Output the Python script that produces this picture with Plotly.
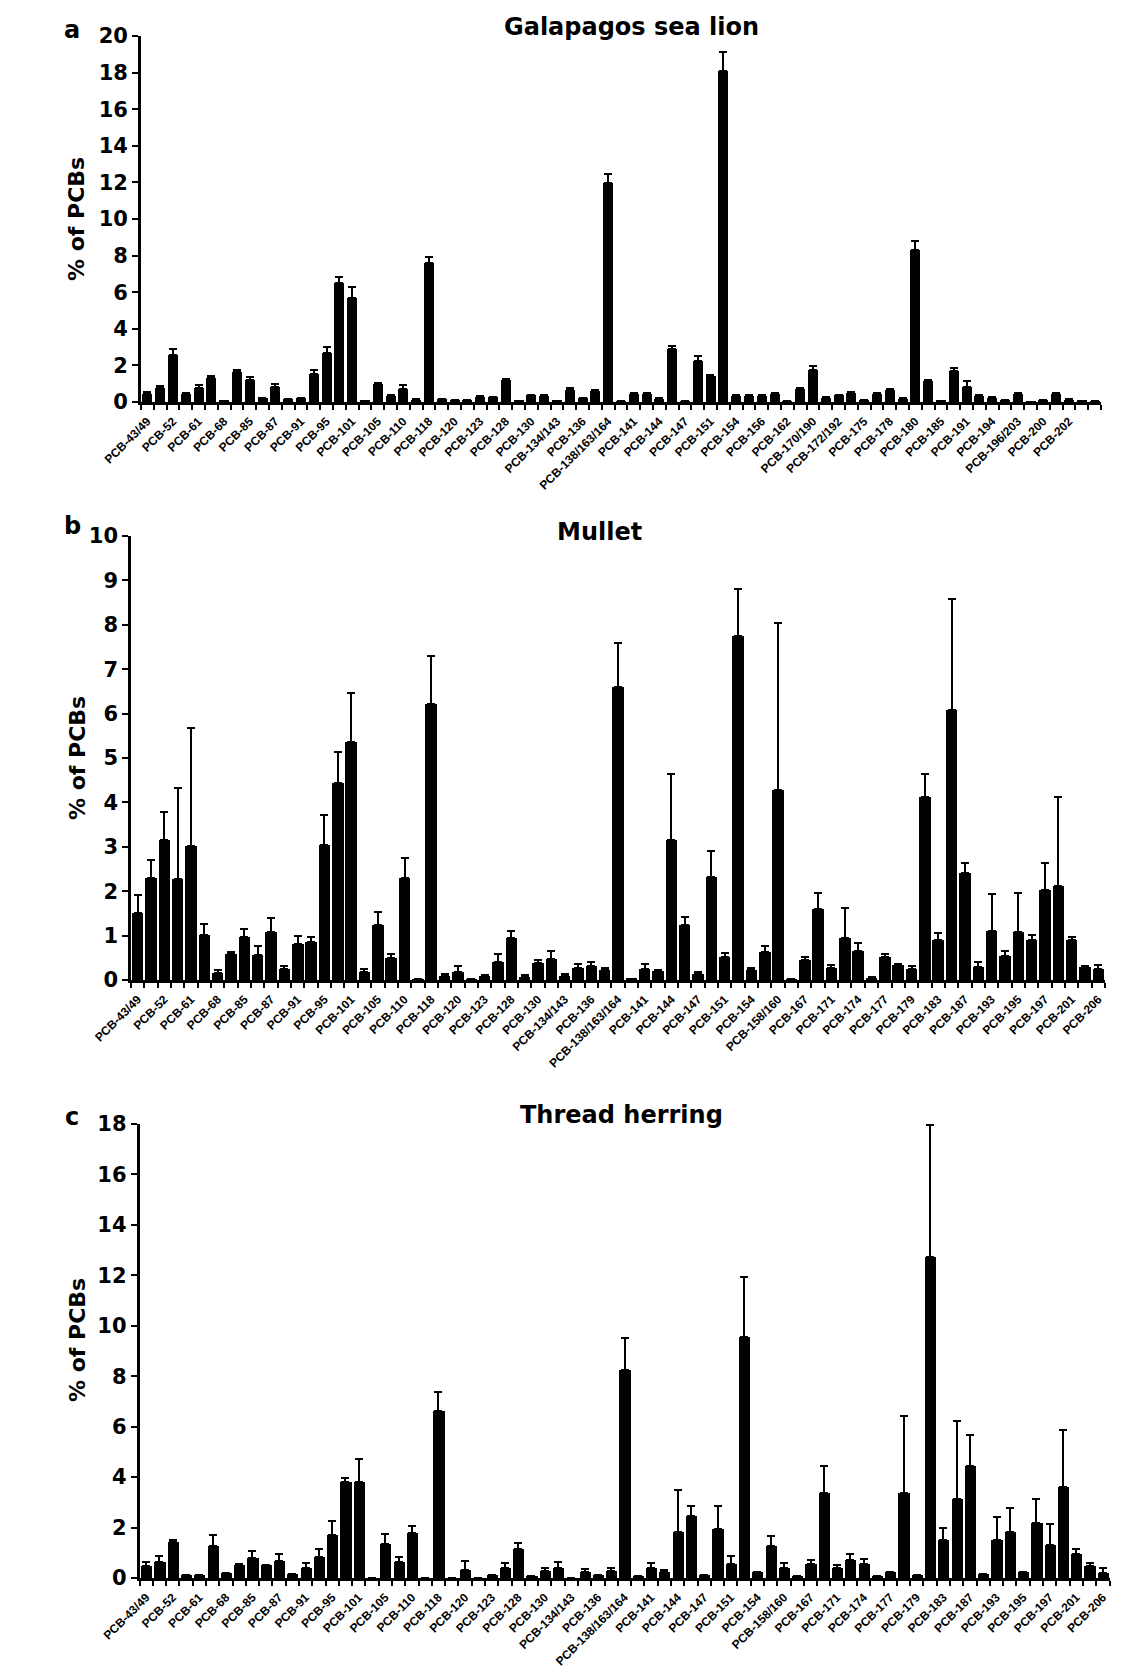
import plotly.graph_objects as go

# ---------------- data ----------------
a_labels = ["PCB-43/49", "PCB-52", "PCB-61", "PCB-68", "PCB-85", "PCB-87", "PCB-91", "PCB-95",
            "PCB-101", "PCB-105", "PCB-110", "PCB-118", "PCB-120", "PCB-123", "PCB-128", "PCB-130",
            "PCB-134/143", "PCB-136", "PCB-138/163/164", "PCB-141", "PCB-144", "PCB-147", "PCB-151",
            "PCB-154", "PCB-156", "PCB-162", "PCB-170/190", "PCB-172/192", "PCB-175", "PCB-178",
            "PCB-180", "PCB-185", "PCB-191", "PCB-194", "PCB-196/203", "PCB-200", "PCB-202"]

bc_labels = ["PCB-43/49", "PCB-52", "PCB-61", "PCB-68", "PCB-85", "PCB-87", "PCB-91", "PCB-95",
             "PCB-101", "PCB-105", "PCB-110", "PCB-118", "PCB-120", "PCB-123", "PCB-128", "PCB-130",
             "PCB-134/143", "PCB-136", "PCB-138/163/164", "PCB-141", "PCB-144", "PCB-147", "PCB-151",
             "PCB-154", "PCB-158/160", "PCB-167", "PCB-171", "PCB-174", "PCB-177", "PCB-179",
             "PCB-183", "PCB-187", "PCB-193", "PCB-195", "PCB-197", "PCB-201", "PCB-206"]

# Galapagos sea lion (mean % and upper error)
a_vals = [0.42, 0.78, 2.55, 0.46, 0.78, 1.33, 0.07, 1.65, 1.22, 0.20,
          0.83, 0.16, 0.21, 1.53, 2.67, 6.52, 5.68, 0.07, 1.00, 0.35,
          0.73, 0.13, 7.62, 0.16, 0.11, 0.11, 0.28, 0.25, 1.22, 0.07,
          0.36, 0.33, 0.07, 0.68, 0.20, 0.58, 11.95, 0.05, 0.42, 0.46,
          0.18, 2.88, 0.05, 2.22, 1.40, 18.10, 0.33, 0.33, 0.33, 0.42,
          0.05, 0.69, 1.77, 0.24, 0.36, 0.47, 0.10, 0.46, 0.64, 0.18,
          8.30, 1.13, 0.06, 1.70, 0.80, 0.33, 0.24, 0.08, 0.45, 0.02,
          0.08, 0.45, 0.13, 0.06, 0.03]
a_err = [0.15, 0.10, 0.33, 0.04, 0.17, 0.11, 0.00, 0.11, 0.12, 0.03,
         0.13, 0.02, 0.03, 0.20, 0.35, 0.33, 0.62, 0.00, 0.04, 0.04,
         0.19, 0.02, 0.33, 0.02, 0.02, 0.02, 0.04, 0.04, 0.05, 0.01,
         0.05, 0.05, 0.01, 0.11, 0.03, 0.05, 0.50, 0.01, 0.05, 0.05,
         0.03, 0.20, 0.01, 0.28, 0.05, 1.05, 0.04, 0.04, 0.04, 0.05,
         0.01, 0.05, 0.18, 0.03, 0.05, 0.05, 0.02, 0.05, 0.08, 0.03,
         0.50, 0.05, 0.01, 0.17, 0.35, 0.04, 0.04, 0.01, 0.05, 0.00,
         0.01, 0.05, 0.02, 0.01, 0.00]

# Mullet
b_vals = [1.52, 2.29, 3.16, 2.27, 3.02, 1.02, 0.16, 0.58, 0.97, 0.56,
          1.07, 0.24, 0.80, 0.86, 3.04, 4.44, 5.35, 0.18, 1.23, 0.49,
          2.30, 0.02, 6.22, 0.08, 0.18, 0.02, 0.08, 0.40, 0.94, 0.07,
          0.38, 0.48, 0.08, 0.27, 0.31, 0.22, 6.60, 0.03, 0.24, 0.20,
          3.16, 1.23, 0.14, 2.33, 0.51, 7.75, 0.22, 0.64, 4.28, 0.02,
          0.44, 1.59, 0.27, 0.95, 0.66, 0.05, 0.52, 0.33, 0.25, 4.12,
          0.91, 6.08, 2.40, 0.29, 1.10, 0.53, 1.09, 0.91, 2.02, 2.12,
          0.89, 0.30, 0.24]
b_err = [0.40, 0.42, 0.62, 2.05, 2.66, 0.24, 0.07, 0.06, 0.19, 0.20,
         0.33, 0.08, 0.18, 0.10, 0.68, 0.70, 1.12, 0.07, 0.30, 0.09,
         0.45, 0.00, 1.08, 0.06, 0.13, 0.00, 0.03, 0.18, 0.17, 0.04,
         0.06, 0.18, 0.06, 0.09, 0.10, 0.05, 0.98, 0.00, 0.12, 0.02,
         1.47, 0.18, 0.03, 0.57, 0.10, 1.06, 0.05, 0.12, 3.75, 0.00,
         0.08, 0.36, 0.06, 0.67, 0.18, 0.01, 0.06, 0.02, 0.06, 0.51,
         0.14, 2.50, 0.23, 0.12, 0.84, 0.12, 0.86, 0.11, 0.61, 2.00,
         0.08, 0.02, 0.10]

# Thread herring
c_vals = [0.48, 0.62, 1.42, 0.10, 0.12, 1.26, 0.20, 0.52, 0.79, 0.50,
          0.69, 0.14, 0.40, 0.84, 1.72, 3.82, 3.82, 0.00, 1.33, 0.62,
          1.77, 0.00, 6.64, 0.00, 0.33, 0.00, 0.10, 0.39, 1.14, 0.07,
          0.26, 0.38, 0.00, 0.25, 0.10, 0.26, 8.24, 0.07, 0.39, 0.25,
          1.81, 2.47, 0.12, 1.96, 0.55, 9.56, 0.22, 1.26, 0.39, 0.07,
          0.55, 3.38, 0.39, 0.72, 0.55, 0.07, 0.22, 3.36, 0.12, 12.73,
          1.49, 3.12, 4.43, 0.14, 1.52, 1.84, 0.22, 2.20, 1.30, 3.60,
          0.94, 0.48, 0.19]
c_err = [0.14, 0.25, 0.09, 0.00, 0.00, 0.44, 0.00, 0.03, 0.30, 0.00,
         0.25, 0.00, 0.21, 0.30, 0.54, 0.16, 0.90, 0.00, 0.42, 0.22,
         0.28, 0.00, 0.72, 0.00, 0.35, 0.00, 0.00, 0.19, 0.26, 0.00,
         0.13, 0.24, 0.00, 0.11, 0.00, 0.13, 1.26, 0.00, 0.22, 0.08,
         1.68, 0.37, 0.00, 0.88, 0.32, 2.36, 0.00, 0.41, 0.22, 0.00,
         0.17, 1.06, 0.14, 0.25, 0.22, 0.00, 0.00, 3.06, 0.00, 5.24,
         0.49, 3.10, 1.23, 0.00, 0.88, 0.95, 0.00, 0.92, 0.86, 2.25,
         0.21, 0.10, 0.21]

titles = ["Galapagos sea lion", "Mullet", "Thread herring"]
letters = ["a", "b", "c"]
y_title = "% of PCBs"

# ---------------- layout helpers ----------------
W, H = 1143, 1669
FONT = "DejaVu Sans"
XFONT = "Liberation Sans"


def fx(px):
    return px / W


def fy(py):
    return 1 - py / H


panels = [
    dict(vals=a_vals, err=a_err, labels=a_labels, ymax=20, dtick=2,
         xpx=(140.9, 1100.9), ypx=(36, 402), bw=0.78,
         tpos=(631, 27), lpos=(72, 30), ytpos=(77, 219)),
    dict(vals=b_vals, err=b_err, labels=bc_labels, ymax=10, dtick=1,
         xpx=(131, 1105), ypx=(536, 980), bw=0.86,
         tpos=(599, 532), lpos=(72, 526), ytpos=(77, 758)),
    dict(vals=c_vals, err=c_err, labels=bc_labels, ymax=18, dtick=2,
         xpx=(139.5, 1109.5), ypx=(1124, 1578), bw=0.84,
         tpos=(621, 1115), lpos=(72, 1117), ytpos=(77, 1340)),
]

fig = go.Figure()
annotations = []
layout = dict(
    width=W, height=H,
    margin=dict(l=0, r=0, t=0, b=0, pad=0, autoexpand=False),
    paper_bgcolor="white", plot_bgcolor="white",
    showlegend=False,
    bargap=0,
)

for i, p in enumerate(panels):
    sfx = "" if i == 0 else str(i + 1)
    n = len(p["vals"])
    xs = list(range(1, n + 1))
    fig.add_trace(go.Bar(
        x=xs, y=p["vals"], width=p["bw"],
        marker=dict(color="black", line=dict(width=0)),
        error_y=dict(type="data", symmetric=False, array=p["err"],
                     arrayminus=[0] * n, color="black", thickness=2, width=4),
        xaxis="x" + sfx, yaxis="y" + sfx,
    ))
    tickvals = list(range(1, 2 * len(p["labels"]), 2))
    layout["xaxis" + sfx] = dict(
        domain=[fx(p["xpx"][0]), fx(p["xpx"][1])],
        anchor="y" + sfx, automargin=False,
        range=[0.5, n + 0.5],
        tickmode="array", tickvals=tickvals, ticktext=p["labels"],
        ticks="outside", ticklen=5, tickcolor="rgba(0,0,0,0)",
        tickangle=-45,
        tickfont=dict(family=XFONT, size=12, color="black", weight="bold"),
        showline=True, linecolor="black", linewidth=2.5,
        showgrid=False, zeroline=False, fixedrange=True,
        minor=dict(tickmode="array", tickvals=[k + 0.5 for k in range(0, n + 1)],
                   ticks="outside", ticklen=5, tickwidth=2, tickcolor="black",
                   showgrid=False),
    )
    layout["yaxis" + sfx] = dict(
        domain=[fy(p["ypx"][1]), fy(p["ypx"][0])],
        anchor="x" + sfx, automargin=False,
        range=[0, p["ymax"]],
        tickmode="linear", tick0=0, dtick=p["dtick"],
        ticks="outside", ticklen=6, tickwidth=2, tickcolor="black",
        tickfont=dict(family=FONT, size=21, color="black", weight="bold"),
        showline=True, linecolor="black", linewidth=2.5,
        showgrid=False, zeroline=False, fixedrange=True,
    )
    annotations.append(dict(
        text=titles[i], x=fx(p["tpos"][0]), y=fy(p["tpos"][1]),
        xref="paper", yref="paper", xanchor="center", yanchor="middle",
        showarrow=False, font=dict(family=FONT, size=24, color="black", weight="bold")))
    annotations.append(dict(
        text=letters[i], x=fx(p["lpos"][0]), y=fy(p["lpos"][1]),
        xref="paper", yref="paper", xanchor="center", yanchor="middle",
        showarrow=False, font=dict(family=FONT, size=24, color="black", weight="bold")))
    annotations.append(dict(
        text=y_title, x=fx(p["ytpos"][0]), y=fy(p["ytpos"][1]),
        xref="paper", yref="paper", xanchor="center", yanchor="middle",
        textangle=-90, showarrow=False,
        font=dict(family=FONT, size=22, color="black", weight="bold")))

layout["annotations"] = annotations
fig.update_layout(**layout)
fig.write_html("out.html")
